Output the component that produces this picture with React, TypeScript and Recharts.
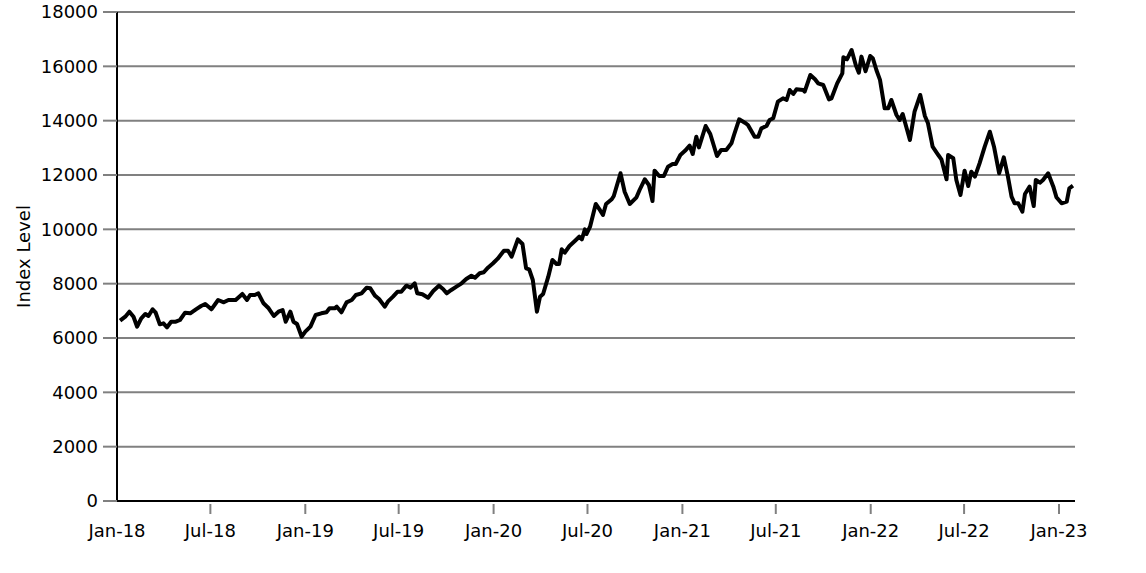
import React from "react";
import { LineChart, Line, XAxis, YAxis, CartesianGrid } from "recharts";

const dates: string[] = [
  "2018-01-07","2018-01-17","2018-01-25","2018-02-02","2018-02-09","2018-02-17","2018-02-25","2018-03-03","2018-03-11","2018-03-17",
  "2018-03-25","2018-04-01","2018-04-08","2018-04-16","2018-04-25","2018-05-03","2018-05-13","2018-05-23","2018-06-03","2018-06-13",
  "2018-06-21","2018-07-03","2018-07-16","2018-07-27","2018-08-05","2018-08-19","2018-09-01","2018-09-10","2018-09-16","2018-09-25",
  "2018-10-02","2018-10-12","2018-10-22","2018-11-01","2018-11-10","2018-11-18","2018-11-24","2018-12-03","2018-12-09","2018-12-16",
  "2018-12-25","2019-01-01","2019-01-11","2019-01-21","2019-02-01","2019-02-11","2019-02-17","2019-02-27","2019-03-03","2019-03-12",
  "2019-03-22","2019-04-01","2019-04-09","2019-04-20","2019-04-30","2019-05-07","2019-05-16","2019-05-24","2019-06-04","2019-06-10",
  "2019-06-20","2019-06-29","2019-07-06","2019-07-16","2019-07-24","2019-08-01","2019-08-06","2019-08-16","2019-08-27","2019-09-06",
  "2019-09-17","2019-09-25","2019-10-02","2019-10-11","2019-10-21","2019-10-31","2019-11-09","2019-11-19","2019-11-26","2019-12-05",
  "2019-12-13","2019-12-21","2019-12-31","2020-01-09","2020-01-21","2020-01-29","2020-02-05","2020-02-17","2020-02-26","2020-03-04",
  "2020-03-10","2020-03-17","2020-03-25","2020-03-31","2020-04-06","2020-04-16","2020-04-24","2020-05-02","2020-05-07","2020-05-12",
  "2020-05-18","2020-05-27","2020-06-07","2020-06-15","2020-06-20","2020-06-26","2020-06-29","2020-07-06","2020-07-17","2020-07-25",
  "2020-07-31","2020-08-06","2020-08-17","2020-08-21","2020-09-03","2020-09-11","2020-09-21","2020-10-04","2020-10-10","2020-10-20",
  "2020-10-28","2020-11-04","2020-11-08","2020-11-17","2020-11-26","2020-12-04","2020-12-13","2020-12-19","2020-12-28","2021-01-06",
  "2021-01-15","2021-01-21","2021-01-28","2021-02-02","2021-02-15","2021-02-24","2021-03-09","2021-03-17","2021-03-27","2021-04-06",
  "2021-04-11","2021-04-21","2021-05-02","2021-05-08","2021-05-21","2021-05-28","2021-06-03","2021-06-13","2021-06-19","2021-06-26",
  "2021-07-05","2021-07-15","2021-07-22","2021-07-28","2021-08-04","2021-08-10","2021-08-23","2021-08-26","2021-09-06","2021-09-15",
  "2021-09-21","2021-10-01","2021-10-12","2021-10-17","2021-10-28","2021-11-07","2021-11-09","2021-11-16","2021-11-25","2021-12-03",
  "2021-12-09","2021-12-14","2021-12-22","2021-12-31","2022-01-05","2022-01-12","2022-01-19","2022-01-28","2022-02-04","2022-02-10",
  "2022-02-20","2022-02-26","2022-03-04","2022-03-18","2022-03-27","2022-04-07","2022-04-16","2022-04-22","2022-05-01","2022-05-12",
  "2022-05-18","2022-05-28","2022-05-31","2022-06-10","2022-06-16","2022-06-24","2022-07-02","2022-07-09","2022-07-15","2022-07-22",
  "2022-07-31","2022-08-10","2022-08-20","2022-08-28","2022-09-07","2022-09-16","2022-09-24","2022-10-01","2022-10-07","2022-10-14",
  "2022-10-22","2022-10-27","2022-11-05","2022-11-13","2022-11-17","2022-11-25","2022-12-01","2022-12-11","2022-12-21","2022-12-27",
  "2023-01-06","2023-01-16","2023-01-21","2023-01-28",
];

const indexLevel: number[] = [
  6637,6784,6968,6784,6416,6725,6884,6810,7056,6931,
  6504,6541,6394,6600,6600,6663,6931,6909,7056,7178,
  7252,7056,7399,7314,7399,7399,7620,7399,7583,7583,
  7645,7277,7093,6810,6968,7031,6600,6968,6600,6515,
  6048,6232,6420,6847,6909,6946,7093,7093,7153,6946,
  7314,7399,7583,7645,7853,7829,7558,7436,7153,7337,
  7521,7705,7705,7926,7853,8013,7645,7609,7484,7730,
  7926,7804,7645,7767,7889,8013,8172,8293,8220,8382,
  8419,8588,8750,8920,9214,9214,8993,9633,9460,8566,
  8529,8135,6968,7521,7620,8257,8871,8724,8724,9265,
  9140,9387,9582,9729,9633,10001,9828,10097,10933,10712,
  10528,10933,11106,11227,12063,11385,10933,11179,11448,11842,
  11632,11043,12159,11963,11963,12306,12405,12405,12737,12890,
  13080,12773,13410,13018,13804,13510,12699,12920,12920,13166,
  13473,14050,13926,13841,13410,13410,13717,13804,14025,14087,
  14699,14823,14761,15129,14982,15154,15129,15068,15681,15522,
  15374,15313,14786,14823,15374,15742,16333,16259,16602,16050,
  15766,16357,15820,16380,16300,15865,15500,14455,14455,14761,
  14209,14025,14246,13288,14331,14945,14172,13903,13042,12736,
  12578,11842,12736,12615,11816,11264,12159,11595,12122,11938,
  12430,13042,13594,13042,12063,12651,11938,11202,10958,10958,
  10651,11301,11570,10860,11816,11717,11816,12063,11570,11179,
  10958,11018,11510,11606,
];

const xTickDates: string[] = [
  "2018-01-01","2018-07-01","2019-01-01","2019-07-01","2020-01-01","2020-07-01",
  "2021-01-01","2021-07-01","2022-01-01","2022-07-01","2023-01-01",
];
const xTickLabels: string[] = [
  "Jan-18","Jul-18","Jan-19","Jul-19","Jan-20","Jul-20",
  "Jan-21","Jul-21","Jan-22","Jul-22","Jan-23",
];
const yTicks: number[] = [0, 2000, 4000, 6000, 8000, 10000, 12000, 14000, 16000, 18000];
const yAxisTitle = "Index Level";

const data = dates.map((d, i) => ({ t: Date.parse(d), v: indexLevel[i] }));
const xTicks = xTickDates.map((d) => Date.parse(d));
const xDomain = [Date.parse("2018-01-01"), Date.parse("2023-02-01")];

const FONT = "DejaVu Sans, sans-serif";
const GRID = "#808080";

const XTick = (props: any) => {
  const { x, y, payload } = props;
  const idx = xTicks.indexOf(payload.value);
  const label = idx >= 0 ? xTickLabels[idx] : "";
  return (
    <g>
      {idx > 0 && (
        <line x1={x} x2={x} y1={y - 20} y2={y - 10} stroke={GRID} strokeWidth={2} />
      )}
      <text x={x} y={y} dy="0.71em" textAnchor="middle" fontSize={18} fontFamily={FONT} fill="#000">
        {label}
      </text>
    </g>
  );
};

export default function App() {
  return (
    <div style={{ position: "absolute", left: 0, top: 0, width: 1146, height: 573, background: "#fff" }}>
      <LineChart width={1146} height={573} data={data} margin={{ top: 12, right: 71, bottom: 32, left: 0 }}>
        <CartesianGrid horizontal={true} vertical={false} stroke={GRID} strokeWidth={2} />
        <XAxis
          dataKey="t"
          type="number"
          domain={xDomain}
          ticks={xTicks}
          allowDataOverflow
          height={40}
          tickSize={10}
          tickMargin={13}
          tickLine={false}
          axisLine={{ stroke: "#000", strokeWidth: 2 }}
          tick={<XTick />}
          interval={0}
        />
        <YAxis
          type="number"
          domain={[0, 18000]}
          ticks={yTicks}
          width={117}
          tickSize={14}
          tickMargin={5}
          interval={0}
          tickLine={{ stroke: GRID, strokeWidth: 2 }}
          axisLine={{ stroke: "#000", strokeWidth: 2 }}
          tick={{ fontSize: 18, fontFamily: FONT, fill: "#000" }}
          label={{
            value: yAxisTitle,
            angle: -90,
            position: "insideLeft",
            offset: 24,
            style: { fontSize: 18, fontFamily: FONT, fill: "#000", textAnchor: "middle" },
          }}
        />
        <Line
          type="linear"
          dataKey="v"
          stroke="#000"
          strokeWidth={4}
          strokeLinejoin="round"
          dot={false}
          activeDot={false}
          isAnimationActive={false}
        />
      </LineChart>
    </div>
  );
}
